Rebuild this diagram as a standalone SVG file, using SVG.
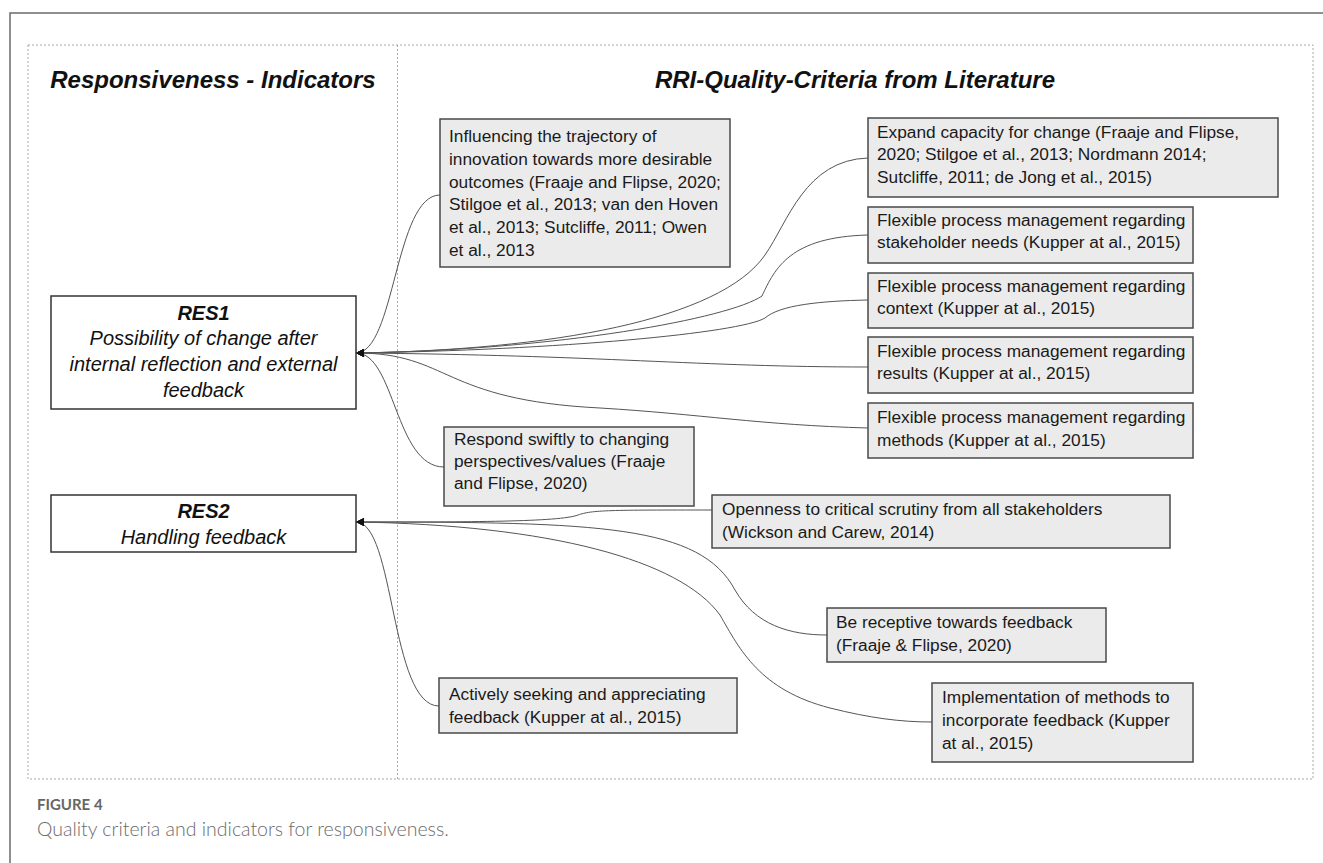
<svg xmlns="http://www.w3.org/2000/svg" width="1323" height="863" viewBox="0 0 1323 863">
<defs>
<style>
.frame{fill:none;stroke:#6b6b6b;stroke-width:1.5}
.dash{fill:none;stroke:#a8a8a8;stroke-width:1;stroke-dasharray:2 2}
.head{font-family:"Liberation Sans",Arial,sans-serif;font-size:24px;font-weight:bold;font-style:italic;fill:#111;text-anchor:middle}
.res{fill:#fff;stroke:#333;stroke-width:1.5}
.resT{font-family:"Liberation Sans",Arial,sans-serif;font-size:20px;font-style:italic;fill:#111;text-anchor:middle}
.resB{font-weight:bold}
.crit{fill:#ebebeb;stroke:#4a4a4a;stroke-width:1.5}
.critT{font-family:"Liberation Sans",Arial,sans-serif;font-size:17.3px;fill:#1a1a1a}
.con{fill:none;stroke:#555;stroke-width:1;marker-start:url(#arr)}
.capH{font-family:Lato,"Liberation Sans",sans-serif;font-size:15px;font-weight:bold;fill:#666}
.capT{font-family:Lato,"Liberation Sans",sans-serif;font-size:19.5px;font-weight:300;fill:#6b6b6b}
</style>
<marker id="arr" viewBox="0 0 10 10" refX="10" refY="5" markerWidth="10" markerHeight="8" markerUnits="userSpaceOnUse" orient="auto-start-reverse">
<path d="M0,0 L10,5 L0,10 z" fill="#111"/>
</marker>
</defs>
<rect x="0" y="0" width="1323" height="863" fill="#fff"/>
<rect class="frame" x="10" y="13" width="1400" height="900"/>
<rect class="dash" x="28" y="45" width="1285" height="734"/>
<line class="dash" x1="397.5" y1="45" x2="397.5" y2="779"/>
<text class="head" x="213" y="88">Responsiveness - Indicators</text>
<text class="head" x="855" y="88">RRI-Quality-Criteria from Literature</text>

<g id="connectors">
<path class="con" d="M356,353 C395,353 395,195 440,195"/>
<path class="con" d="M356,353 C395,353 395,467 444,467"/>
<path class="con" d="M356,353 C550,350 720,320 765,255 C788,222 805,160 868,158"/>
<path class="con" d="M356,353 C560,350 730,318 762,296 C775,268 790,237 868,235"/>
<path class="con" d="M356,353 C560,350 740,333 765,318 C780,305 820,301 868,300"/>
<path class="con" d="M356,353 C600,355 700,367 868,367"/>
<path class="con" d="M356,353 C450,353 440,400 600,408 C700,414 760,425 868,428"/>
<path class="con" d="M356,522 C470,522 560,522 578,515 C592,510 610,510 712,510"/>
<path class="con" d="M356,522 C600,522 700,525 735,590 C755,625 790,635 827,635"/>
<path class="con" d="M356,522 C550,525 680,560 720,615 C740,650 760,690 830,708 C870,718 900,722 932,722"/>
<path class="con" d="M356,522 C395,522 390,706 439,706"/>
</g>

<g id="res1">
<rect class="res" x="51" y="296" width="305" height="113"/>
<text class="resT resB" x="203.5" y="320">RES1</text>
<text class="resT" x="203.5" y="345">Possibility of change after</text>
<text class="resT" x="203.5" y="371">internal reflection and external</text>
<text class="resT" x="203.5" y="397">feedback</text>
</g>

<g id="res2">
<rect class="res" x="51" y="495" width="305" height="57"/>
<text class="resT resB" x="203.5" y="518">RES2</text>
<text class="resT" x="203.5" y="544">Handling feedback</text>
</g>

<g id="c-influencing">
<rect class="crit" x="440" y="119" width="290" height="148"/>
<text class="critT"><tspan x="449" y="142">Influencing the trajectory of</tspan><tspan x="449" y="165">innovation towards more desirable</tspan><tspan x="449" y="188">outcomes (Fraaje and Flipse, 2020;</tspan><tspan x="449" y="210">Stilgoe et al., 2013; van den Hoven</tspan><tspan x="449" y="233">et al., 2013; Sutcliffe, 2011; Owen</tspan><tspan x="449" y="256">et al., 2013</tspan></text>
</g>

<g id="c-expand">
<rect class="crit" x="868" y="118" width="410" height="79"/>
<text class="critT"><tspan x="877" y="138">Expand capacity for change (Fraaje and Flipse,</tspan><tspan x="877" y="160">2020; Stilgoe et al., 2013; Nordmann 2014;</tspan><tspan x="877" y="183">Sutcliffe, 2011; de Jong et al., 2015)</tspan></text>
</g>

<g id="c-stakeholder">
<rect class="crit" x="868" y="207" width="325" height="56"/>
<text class="critT"><tspan x="877" y="226">Flexible process management regarding</tspan><tspan x="877" y="248">stakeholder needs (Kupper at al., 2015)</tspan></text>
</g>

<g id="c-context">
<rect class="crit" x="868" y="273" width="325" height="55"/>
<text class="critT"><tspan x="877" y="292">Flexible process management regarding</tspan><tspan x="877" y="314">context (Kupper at al., 2015)</tspan></text>
</g>

<g id="c-results">
<rect class="crit" x="868" y="337" width="325" height="56"/>
<text class="critT"><tspan x="877" y="357">Flexible process management regarding</tspan><tspan x="877" y="379">results (Kupper at al., 2015)</tspan></text>
</g>

<g id="c-methods">
<rect class="crit" x="868" y="403" width="325" height="55"/>
<text class="critT"><tspan x="877" y="423">Flexible process management regarding</tspan><tspan x="877" y="446">methods (Kupper at al., 2015)</tspan></text>
</g>

<g id="c-respond">
<rect class="crit" x="444" y="427" width="250" height="79"/>
<text class="critT"><tspan x="454" y="445">Respond swiftly to changing</tspan><tspan x="454" y="467">perspectives/values (Fraaje</tspan><tspan x="454" y="489">and Flipse, 2020)</tspan></text>
</g>

<g id="c-openness">
<rect class="crit" x="712" y="495" width="458" height="53"/>
<text class="critT"><tspan x="722" y="515">Openness to critical scrutiny from all stakeholders</tspan><tspan x="722" y="538">(Wickson and Carew, 2014)</tspan></text>
</g>

<g id="c-receptive">
<rect class="crit" x="827" y="608" width="279" height="54"/>
<text class="critT"><tspan x="836" y="628">Be receptive towards feedback</tspan><tspan x="836" y="651">(Fraaje &amp; Flipse, 2020)</tspan></text>
</g>

<g id="c-implementation">
<rect class="crit" x="932" y="683" width="261" height="79"/>
<text class="critT"><tspan x="942" y="703">Implementation of methods to</tspan><tspan x="942" y="726">incorporate feedback (Kupper</tspan><tspan x="942" y="749">at al., 2015)</tspan></text>
</g>

<g id="c-actively">
<rect class="crit" x="439" y="678" width="298" height="55"/>
<text class="critT"><tspan x="449" y="700">Actively seeking and appreciating</tspan><tspan x="449" y="723">feedback (Kupper at al., 2015)</tspan></text>
</g>

<text class="capH" x="37" y="810">FIGURE 4</text>
<text class="capT" x="37" y="836">Quality criteria and indicators for responsiveness.</text>
</svg>
